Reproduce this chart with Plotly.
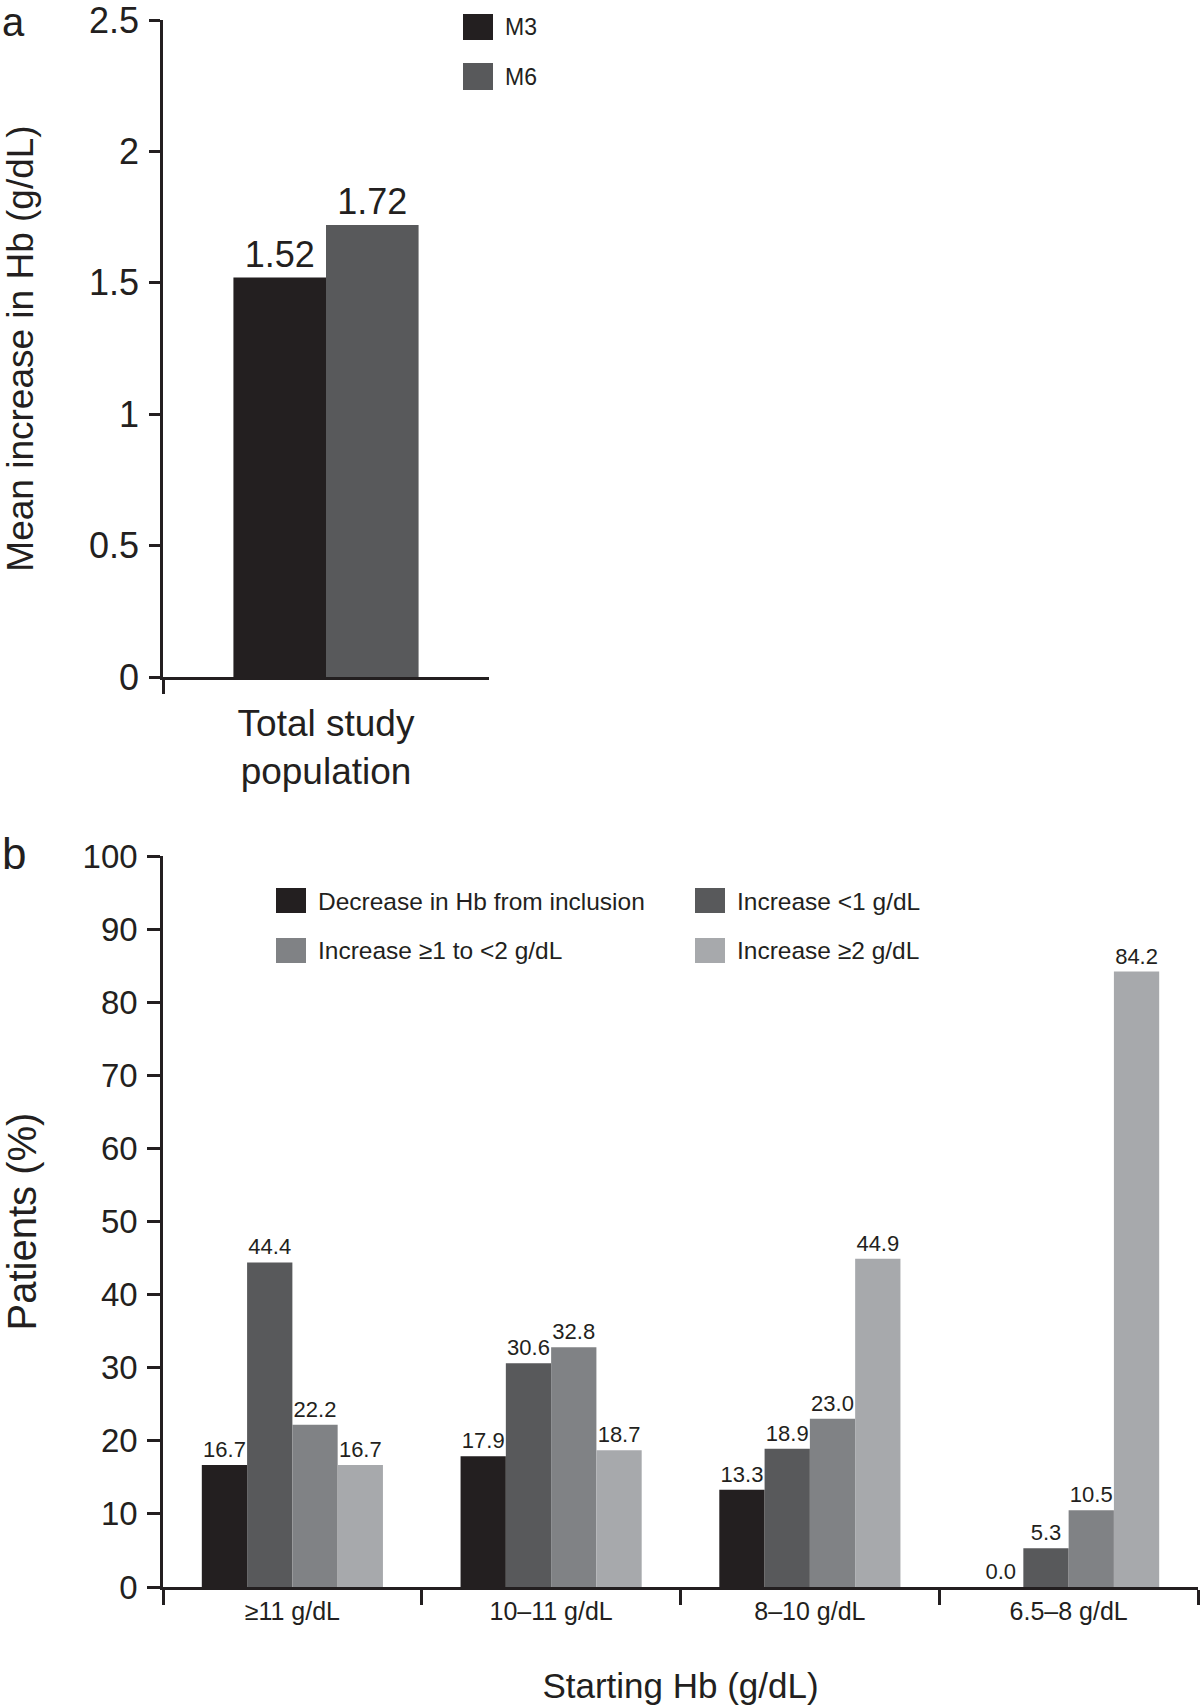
import plotly.graph_objects as go

# ---------------- data ----------------
panel_a_categories = ["Total study<br>population"]
panel_a_series = ["M3", "M6"]
m3_values = [1.52]
m6_values = [1.72]

starting_hb = ["≥11 g/dL", "10–11 g/dL", "8–10 g/dL", "6.5–8 g/dL"]
panel_b_series = ["Decrease in Hb from inclusion", "Increase <1 g/dL",
                  "Increase ≥1 to <2 g/dL", "Increase ≥2 g/dL"]
decrease_vals = [16.7, 17.9, 13.3, 0.0]
inc_lt1_vals = [44.4, 30.6, 18.9, 5.3]
inc_1to2_vals = [22.2, 32.8, 23.0, 10.5]
inc_ge2_vals = [16.7, 18.7, 44.9, 84.2]

# ---------------- styling ----------------
W, H = 1200, 1706
FONT = "Liberation Sans, Arial, Helvetica, sans-serif"
INK = "#231f20"
colors_a = ["#231f20", "#58595b"]
colors_b = ["#231f20", "#58595b", "#808285", "#a7a9ac"]

def px(x):
    return x / W

def py(y):
    return 1 - y / H

fig = go.Figure()

# Panel a bars
bar_w = 0.284
for name, vals, col, off in zip(panel_a_series, [m3_values, m6_values], colors_a, [-bar_w, 0.0]):
    fig.add_trace(go.Bar(
        x=panel_a_categories, y=vals, name=name, marker_color=col,
        marker_line_width=0, width=bar_w, offset=off,
        text=[f"{v:.2f}" for v in vals], textposition="outside",
        textfont=dict(size=36, color=INK, family=FONT),
        constraintext="none", cliponaxis=False, showlegend=False,
        xaxis="x", yaxis="y"))

# Panel b bars
for name, vals, col in zip(panel_b_series,
                           [decrease_vals, inc_lt1_vals, inc_1to2_vals, inc_ge2_vals],
                           colors_b):
    fig.add_trace(go.Bar(
        x=starting_hb, y=vals, name=name, marker_color=col, marker_line_width=0,
        text=[f"{v:.1f}" for v in vals], textposition="outside",
        textfont=dict(size=22, color=INK, family=FONT),
        constraintext="none", cliponaxis=False, showlegend=False,
        xaxis="x2", yaxis="y2"))

axis_common = dict(showline=True, linecolor=INK, linewidth=2.5, ticks="outside",
                   tickcolor=INK, tickwidth=2.5, showgrid=False, zeroline=False,
                   automargin=False, ticklabeloverflow="allow")

fig.update_layout(
    width=W, height=H, margin=dict(l=0, r=0, t=0, b=0, pad=0),
    paper_bgcolor="white", plot_bgcolor="white",
    font=dict(family=FONT, color=INK),
    barmode="group", bargap=0.30, bargroupgap=0.0,
    showlegend=False,
    xaxis=dict(domain=[px(163), px(489)], anchor="y", type="category",
               tickson="boundaries", ticklen=14, range=[-0.5, 0.5],
               tickfont=dict(size=37), ticklabelstandoff=12, **axis_common),
    yaxis=dict(domain=[py(677), py(20)], anchor="x", range=[0, 2.5], dtick=0.5,
               ticklen=11, tickfont=dict(size=36), ticklabelstandoff=3,
               title=dict(text="Mean increase in Hb (g/dL)", font=dict(size=37), standoff=60),
               **axis_common),
    xaxis2=dict(domain=[px(163), px(1198)], anchor="y2", type="category",
                tickson="boundaries", ticklen=15, range=[-0.5, 3.5],
                tickfont=dict(size=25),
                title=dict(text="Starting Hb (g/dL)", font=dict(size=35), standoff=50),
                **axis_common),
    yaxis2=dict(domain=[py(1587), py(856)], anchor="x2", range=[0, 100], dtick=10,
                ticklen=13, tickfont=dict(size=33), ticklabelstandoff=3,
                title=dict(text="Patients (%)", font=dict(size=40), standoff=65),
                **axis_common),
)

shapes = []
annotations = []

# panel letters
annotations.append(dict(text="a", x=0, y=py(-2), xref="paper", yref="paper",
                        xanchor="left", yanchor="top", showarrow=False,
                        font=dict(size=40, color=INK)))
annotations.append(dict(text="b", x=0, y=py(827), xref="paper", yref="paper",
                        xanchor="left", yanchor="top", showarrow=False,
                        font=dict(size=44, color=INK)))

# panel a legend
leg_a_rows = [(14, 40), (63, 90)]
for name, col, (y0, y1) in zip(panel_a_series, colors_a, leg_a_rows):
    shapes.append(dict(type="rect", xref="paper", yref="paper",
                       x0=px(463), x1=px(493), y0=py(y1), y1=py(y0),
                       fillcolor=col, line=dict(width=0)))
    annotations.append(dict(text=name, x=px(503), y=py((y0 + y1) / 2), xref="paper",
                            yref="paper", xanchor="left", yanchor="middle",
                            showarrow=False, font=dict(size=23, color=INK)))

# panel b legend (2 x 2)
leg_b_pos = [(276, 888), (695, 888), (276, 938), (695, 938)]
for name, col, (x0, y0) in zip(panel_b_series, colors_b, leg_b_pos):
    shapes.append(dict(type="rect", xref="paper", yref="paper",
                       x0=px(x0), x1=px(x0 + 30), y0=py(y0 + 25), y1=py(y0),
                       fillcolor=col, line=dict(width=0)))
    annotations.append(dict(text=name, x=px(x0 + 40), y=py(y0 + 13), xref="paper",
                            yref="paper", xanchor="left", yanchor="middle",
                            showarrow=False, font=dict(size=24.5, color=INK)))

fig.update_layout(shapes=shapes, annotations=annotations)

# remove the default 8px page margin so the figure fills the window exactly
fig.write_html("out.html", config={"displayModeBar": False},
               post_script="document.body.style.margin='0px';document.body.style.overflow='hidden';")
